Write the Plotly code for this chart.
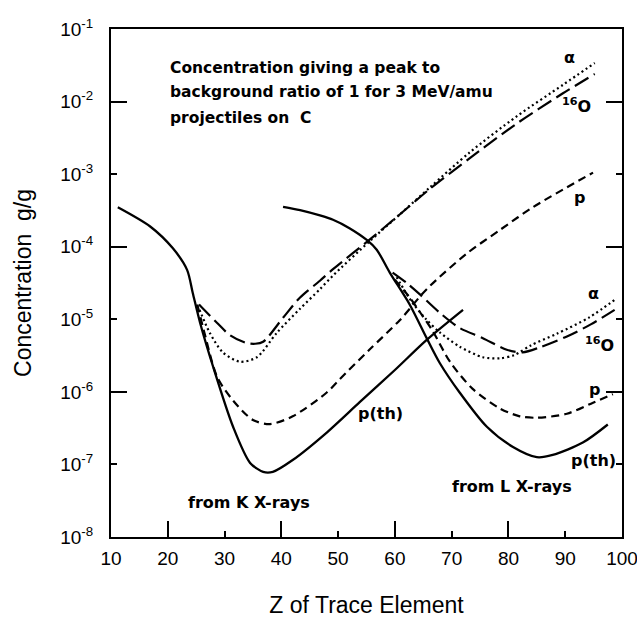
import math
import plotly.graph_objects as go

# Detection limits (g/g) versus atomic number Z of the trace element,
# 3 MeV/amu projectiles on a carbon backing.

# ---- K X-ray curves ----
k_pth_z = [11.2, 16.9, 20.9, 23.4, 24.4, 25.7, 28.0, 31.5, 34.5, 36.8, 38.5, 42.0, 48.0, 53.8, 60.0, 65.6, 72.0]
k_pth_c = [3.5e-4, 1.9e-4, 9.5e-5, 4.8e-5, 2.3e-5, 8.9e-6, 2.2e-6, 3.3e-7, 1.05e-7, 7.9e-8, 7.9e-8, 1.15e-7,
           2.75e-7, 7.2e-7, 2.0e-6, 5.2e-6, 1.35e-5]

k_p_z = [25.2, 26.5, 28.7, 31.5, 35.0, 38.0, 42.0, 48.0, 50.3, 55.5, 60.9, 65.6, 72.7, 78.5, 84.3, 94.9]
k_p_c = [1.6e-5, 6.3e-6, 1.6e-6, 7.6e-7, 4.1e-7, 3.6e-7, 4.6e-7, 9.8e-7, 1.5e-6, 3.8e-6, 9.8e-6, 2.6e-5,
         8.1e-5, 1.7e-4, 3.5e-4, 1.05e-3]

k_alpha_z = [25.6, 27.4, 29.7, 32.7, 35.7, 39.2, 43.3, 46.8, 49.1, 55.6, 60.9, 66.2, 73.2, 81.5, 89.6, 95.2]
k_alpha_c = [1.35e-5, 6.5e-6, 3.5e-6, 2.6e-6, 3.0e-6, 6.5e-6, 1.4e-5, 2.6e-5, 4.0e-5, 1.2e-4, 2.8e-4,
             6.6e-4, 2.0e-3, 6.3e-3, 1.7e-2, 3.4e-2]

k_o_z = [25.5, 28.7, 31.0, 33.9, 35.4, 36.8, 40.3, 43.3, 46.8, 49.1, 55.6, 60.9, 66.2, 73.2, 81.5, 89.6, 95.2]
k_o_c = [1.6e-5, 8.9e-6, 6.0e-6, 4.7e-6, 4.6e-6, 4.9e-6, 1.05e-5, 2.0e-5, 3.4e-5, 4.9e-5, 1.26e-4, 2.8e-4,
         6.3e-4, 1.66e-3, 5.0e-3, 1.3e-2, 2.4e-2]

# ---- L X-ray curves ----
l_pth_z = [40.3, 43.3, 46.8, 49.1, 52.0, 55.1, 56.8, 59.1, 62.6, 65.6, 67.9, 71.4, 76.2, 80.8, 85.0, 87.8, 93.1, 97.5]
l_pth_c = [3.55e-4, 3.2e-4, 2.7e-4, 2.35e-4, 1.8e-4, 1.23e-4, 9.1e-5, 4.4e-5, 1.6e-5, 5.5e-6, 2.5e-6, 9.8e-7,
           3.3e-7, 1.74e-7, 1.26e-7, 1.35e-7, 2.0e-7, 3.55e-7]

l_p_z = [60.0, 62.6, 64.4, 66.7, 69.7, 73.7, 78.5, 82.0, 85.0, 90.3, 94.9, 98.4]
l_p_c = [3.5e-5, 2.0e-5, 1.26e-5, 6.8e-6, 2.6e-6, 1.1e-6, 5.9e-7, 4.6e-7, 4.4e-7, 5.0e-7, 7.1e-7, 9.3e-7]

l_alpha_z = [60.3, 63.0, 65.5, 67.9, 71.4, 75.5, 78.5, 81.0, 84.0, 88.5, 94.3, 99.1]
l_alpha_c = [3.8e-5, 1.74e-5, 1.0e-5, 6.6e-6, 4.2e-6, 3.0e-6, 2.9e-6, 3.2e-6, 4.4e-6, 6.3e-6, 1.07e-5, 1.95e-5]

l_o_z = [59.6, 62.0, 64.4, 67.9, 71.4, 75.5, 79.7, 82.5, 85.5, 90.3, 94.5, 98.7]
l_o_c = [4.4e-5, 3.2e-5, 2.2e-5, 1.23e-5, 7.6e-6, 5.5e-6, 3.8e-6, 3.5e-6, 4.1e-6, 5.8e-6, 8.5e-6, 1.35e-5]

# ---- axis ticks ----
x_ticks = [10, 20, 30, 40, 50, 60, 70, 80, 90, 100]
x_long_ticks = [20, 40, 60, 80]
y_ticks = [1e-8, 1e-7, 1e-6, 1e-5, 1e-4, 1e-3, 1e-2, 1e-1]
y_tick_text = ["10<sup>-8</sup>", "10<sup>-7</sup>", "10<sup>-6</sup>", "10<sup>-5</sup>",
               "10<sup>-4</sup>", "10<sup>-3</sup>", "10<sup>-2</sup>", "10<sup>-1</sup>"]
y_long_ticks = [1e-6, 1e-4, 1e-2]

# ---- text placed on the chart (label, Z, concentration) ----
curve_labels = [
    ("α", 90.8, 4.1e-2), ("<sup>16</sup>O", 92.0, 8.9e-3), ("p", 92.6, 4.7e-4),
    ("α", 94.9, 2.3e-5), ("<sup>16</sup>O", 96.1, 4.5e-6), ("p", 95.2, 1.07e-6),
    ("p(th)", 94.9, 1.15e-7), ("p(th)", 57.4, 5.0e-7),
]
region_labels = [("from K X-rays", 34.3, 3.0e-8), ("from L X-rays", 80.6, 4.9e-8)]
heading = ["Concentration giving a peak to",
           "background ratio of 1 for 3 MeV/amu",
           "projectiles on  C"]
heading_z = 20.0
heading_c = [2.9e-2, 1.35e-2, 5.9e-3]

FONT = "Liberation Sans"
LABEL_FONT = "DejaVu Sans"
INK = "black"

solid = dict(color=INK, width=2.3)
short_dash = dict(color=INK, width=2.2, dash="8px,5px")
dotted = dict(color=INK, width=2.2, dash="2px,3px")
long_dash = dict(color=INK, width=2.2, dash="16px,6px")

fig = go.Figure()
for zs, cs, style in [
    (k_pth_z, k_pth_c, solid), (k_p_z, k_p_c, short_dash),
    (k_alpha_z, k_alpha_c, dotted), (k_o_z, k_o_c, long_dash),
    (l_pth_z, l_pth_c, solid), (l_p_z, l_p_c, short_dash),
    (l_alpha_z, l_alpha_c, dotted), (l_o_z, l_o_c, long_dash),
]:
    fig.add_trace(go.Scatter(x=zs, y=cs, mode="lines", line=dict(shape="spline", smoothing=0.8, **style),
                             showlegend=False, hoverinfo="skip"))

# invisible trace carrying the overlay axes that draw the longer tick marks
fig.add_trace(go.Scatter(x=[50], y=[1e-4], xaxis="x2", yaxis="y2", mode="markers",
                         marker=dict(opacity=0), showlegend=False, hoverinfo="skip"))

tick_font = dict(family=FONT, size=19, color=INK)
title_font = dict(family=FONT, size=23, color=INK)
fig.update_layout(
    width=637, height=618,
    margin=dict(l=111, r=15, t=29, b=81, autoexpand=False),
    paper_bgcolor="white", plot_bgcolor="white",
    font=dict(family=FONT, color=INK),
    xaxis=dict(range=[10, 100], tickmode="array", tickvals=x_ticks, ticks="inside", ticklen=6,
               tickwidth=2, tickcolor=INK, showline=True, linecolor=INK, linewidth=2, mirror=True,
               showgrid=False, zeroline=False, tickfont=tick_font, ticklabelstandoff=3,
               ticklabeloverflow="allow", automargin=False,
               title=dict(text="Z of Trace Element", font=title_font, standoff=30)),
    yaxis=dict(type="log", range=[-8, -1], tickmode="array", tickvals=y_ticks, ticktext=y_tick_text,
               ticks="inside", ticklen=6, tickwidth=2, tickcolor=INK, showline=True, linecolor=INK,
               linewidth=2, mirror="ticks", showgrid=False, zeroline=False, tickfont=tick_font,
               ticklabelstandoff=12, ticklabeloverflow="allow", automargin=False,
               title=dict(text="Concentration  g/g", font=title_font, standoff=22)),
    xaxis2=dict(overlaying="x", range=[10, 100], tickmode="array", tickvals=x_long_ticks, ticks="inside",
                ticklen=16, tickwidth=2, tickcolor=INK, showticklabels=False, showline=False,
                showgrid=False, zeroline=False, side="bottom", automargin=False),
    yaxis2=dict(overlaying="y", type="log", range=[-8, -1], tickmode="array", tickvals=y_long_ticks,
                ticks="inside", ticklen=16, tickwidth=2, tickcolor=INK, showticklabels=False,
                showline=False, mirror="ticks", showgrid=False, zeroline=False, side="left",
                automargin=False),
)

# annotation positions on a log axis are given in log10 units
label_font = dict(family=LABEL_FONT, size=16, color=INK)
for text, zx, cy in curve_labels + region_labels:
    fig.add_annotation(x=zx, y=math.log10(cy), xref="x", yref="y", text="<b>" + text + "</b>",
                       showarrow=False, font=label_font, xanchor="center", yanchor="middle")

for text, cy in zip(heading, heading_c):
    fig.add_annotation(x=heading_z, y=math.log10(cy), xref="x", yref="y", text="<b>" + text + "</b>",
                       showarrow=False, font=dict(family=LABEL_FONT, size=15.5, color=INK),
                       xanchor="left", yanchor="middle")

fig.write_html("out.html")
